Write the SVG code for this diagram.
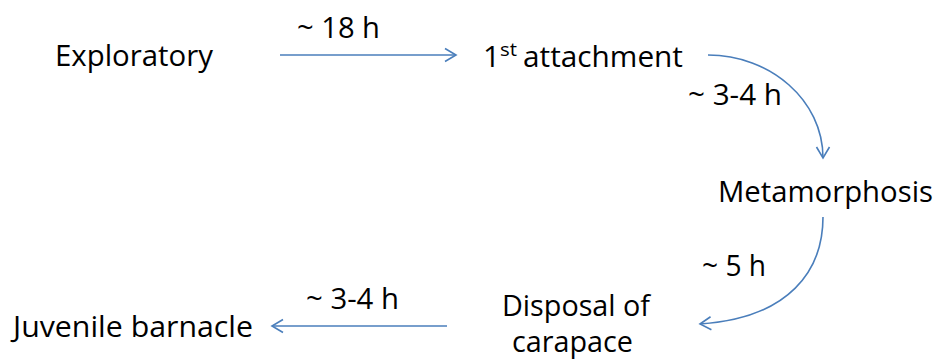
<svg xmlns="http://www.w3.org/2000/svg" width="937" height="360" viewBox="0 0 937 360">
<style>
text{font-family:"Open Sans","Noto Sans","Liberation Sans",sans-serif;font-size:30px;fill:#000}
.sup{font-size:19px}
.c{fill:none;stroke:#4A7EBB;stroke-width:1.6}
</style>
<defs>
<marker id="ah" markerUnits="userSpaceOnUse" markerWidth="14" markerHeight="16" refX="12" refY="8" orient="auto" overflow="visible">
<path d="M1,1.5 L12,8 L1,14.5" fill="none" stroke="#4A7EBB" stroke-width="1.6"/>
</marker>
</defs>
<g id="connectors">
<path class="c" d="M280,55 L456,55" marker-end="url(#ah)"/>
<path class="c" d="M708,55 C770,55 823,100 823,158" marker-end="url(#ah)"/>
<path class="c" d="M823,217 C823,270 790,318 700,324" marker-end="url(#ah)"/>
<path class="c" d="M447,326 L272,326" marker-end="url(#ah)"/>
<text x="297" y="38" textLength="83" lengthAdjust="spacingAndGlyphs">~ 18 h</text>
<text x="688" y="105" textLength="94" lengthAdjust="spacingAndGlyphs">~ 3-4 h</text>
<text x="702" y="276" textLength="64" lengthAdjust="spacingAndGlyphs">~ 5 h</text>
<text x="306" y="309" textLength="93" lengthAdjust="spacingAndGlyphs">~ 3-4 h</text>
</g>
<g id="exploratory">
<text x="55" y="66" textLength="158" lengthAdjust="spacingAndGlyphs">Exploratory</text>
</g>
<g id="attachment">
<text x="483" y="67">1</text>
<text class="sup" x="500" y="56" textLength="17" lengthAdjust="spacingAndGlyphs">st</text>
<text x="523" y="67" textLength="160" lengthAdjust="spacingAndGlyphs">attachment</text>
</g>
<g id="metamorphosis">
<text x="718" y="202" textLength="215" lengthAdjust="spacingAndGlyphs">Metamorphosis</text>
</g>
<g id="disposal">
<text><tspan x="502" y="316" textLength="148" lengthAdjust="spacingAndGlyphs">Disposal of</tspan><tspan x="512" y="352" textLength="121" lengthAdjust="spacingAndGlyphs">carapace</tspan></text>
</g>
<g id="juvenile">
<text x="13" y="337" textLength="240" lengthAdjust="spacingAndGlyphs">Juvenile barnacle</text>
</g>
</svg>
